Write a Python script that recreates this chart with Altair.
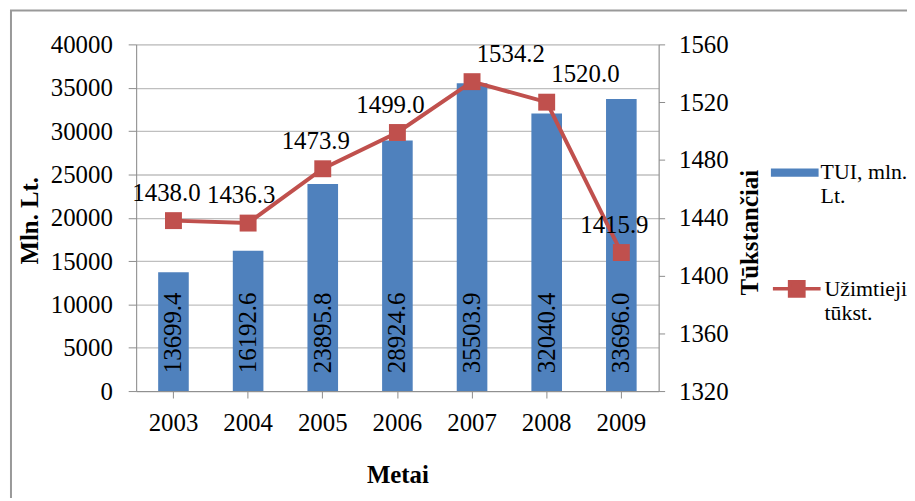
import altair as alt
import pandas as pd

# ---- data ----
years = ["2003", "2004", "2005", "2006", "2007", "2008", "2009"]
tui_mln_lt = [13699.4, 16192.6, 23895.8, 28924.6, 35503.9, 32040.4, 33696.0]
employed_thous = [1438.0, 1436.3, 1473.9, 1499.0, 1534.2, 1520.0, 1415.9]
left_ticks = [0, 5000, 10000, 15000, 20000, 25000, 30000, 35000, 40000]
right_ticks = [1320, 1360, 1400, 1440, 1480, 1520, 1560]
bar_series = "TUI, mln. Lt."
line_series = "Užimtieji tūkst."

df = pd.DataFrame({
    "Metai": years,
    "TUI": tui_mln_lt,
    "Uzimtieji": employed_thous,
    "s_bar": [bar_series] * len(years),
    "s_line": [line_series] * len(years),
})

FONT = "Liberation Serif"
BLUE = "#4F81BD"
RED = "#C0504D"
GRID = "#BFBFBF"
AXC = "#8C8C8C"
FS = 25

base = alt.Chart(df)

x_enc = alt.X(
    "Metai:N", title="Metai",
    scale=alt.Scale(paddingInner=0.59, paddingOuter=0.295),
    axis=alt.Axis(
        labelAngle=0, labelFont=FONT, labelFontSize=FS, labelColor="black",
        labelPadding=13, tickSize=7, tickColor=AXC, domainColor=AXC,
        titleFont=FONT, titleFontSize=FS, titleFontWeight="bold", titleColor="black",
        titleY=84, titleBaseline="middle",
    ),
)

y_left = alt.Y(
    "TUI:Q", title="Mln. Lt.",
    scale=alt.Scale(domain=[0, 40000], nice=False),
    axis=alt.Axis(
        values=left_ticks, format="d", labelFont=FONT, labelFontSize=FS,
        labelColor="black", labelPadding=16, tickSize=8, tickColor=AXC,
        domainColor=AXC, grid=True, gridColor=GRID, gridWidth=1.3,
        titleFont=FONT, titleFontSize=FS, titleFontWeight="bold", titleColor="black",
        titleX=-107, titleY=177, titleAngle=270, titleBaseline="middle", titleAlign="center",
    ),
)

y_right = alt.Y(
    "Uzimtieji:Q", title="Tūkstančiai",
    scale=alt.Scale(domain=[1320, 1560], nice=False, zero=False),
    axis=alt.Axis(
        orient="right", values=right_ticks, format="d", labelFont=FONT,
        labelFontSize=FS, labelColor="black", labelPadding=14, tickSize=6,
        tickColor=AXC, domainColor=AXC, grid=False,
        titleFont=FONT, titleFontSize=FS, titleFontWeight="bold", titleColor="black",
        titleX=92, titleY=189, titleAngle=270, titleBaseline="middle", titleAlign="center",
    ),
)

bars = base.mark_bar().encode(
    x=x_enc,
    y=y_left,
    color=alt.Color(
        "s_bar:N",
        scale=alt.Scale(domain=[bar_series], range=[BLUE]),
        legend=alt.Legend(
            orient="none", legendX=639, legendY=95, title=None, padding=0,
            symbolType="M-1,0.25L1,0.25L1,0.59L-1,0.59Z", symbolSize=2304,
            symbolStrokeWidth=0, symbolOpacity=1,
            labelFont=FONT, labelFontSize=22, labelColor="black",
            labelExpr="['TUI, mln.', 'Lt.']", labelBaseline="top",
            labelOffset=2, labelLimit=400,
        ),
    ),
)

bar_labels = base.mark_text(
    angle=270, align="left", baseline="middle", dx=18,
    font=FONT, fontSize=FS, color="black",
).encode(
    x="Metai:N",
    y=alt.datum(0),
    text=alt.Text("TUI:Q", format=".1f"),
)

line = base.mark_line(color=RED, strokeWidth=4).encode(x="Metai:N", y=y_right)

points = base.mark_point(shape="square", filled=True, size=290, opacity=1).encode(
    x="Metai:N",
    y="Uzimtieji:Q",
    color=alt.Color(
        "s_line:N",
        scale=alt.Scale(domain=[line_series], range=[RED]),
        legend=alt.Legend(
            orient="none", legendX=639, legendY=210, title=None, padding=0,
            symbolType="M-1,0.42L1,0.42M-0.3,0.12L0.3,0.12L0.3,0.72L-0.3,0.72Z",
            symbolSize=2304, symbolStrokeWidth=3.5, symbolStrokeColor=RED,
            symbolFillColor=RED, symbolOpacity=1,
            labelFont=FONT, labelFontSize=22, labelColor="black",
            labelExpr="['Užimtieji', 'tūkst.']", labelBaseline="top",
            labelOffset=2, labelLimit=400,
        ),
    ),
)

point_labels = base.mark_text(
    dy=-28, dx=-7, font=FONT, fontSize=FS, color="black", baseline="middle"
).encode(
    x="Metai:N", y="Uzimtieji:Q", text=alt.Text("Uzimtieji:Q", format=".1f")
).transform_filter(
    "datum.Metai != '2007' && datum.Metai != '2008'"
)

point_labels_shifted = base.mark_text(
    dy=-28, dx=39, font=FONT, fontSize=FS, color="black", baseline="middle"
).encode(
    x="Metai:N", y="Uzimtieji:Q", text=alt.Text("Uzimtieji:Q", format=".1f")
).transform_filter(
    "datum.Metai == '2007' || datum.Metai == '2008'"
)

border = alt.Chart(pd.DataFrame({"k": [0]})).mark_rect(
    fill="transparent", stroke="#999999", strokeWidth=2
).encode(
    x=alt.value(-126), x2=alt.value(800), y=alt.value(-34), y2=alt.value(480)
)

left = alt.layer(bars, bar_labels)
right = alt.layer(line, points, point_labels, point_labels_shifted)

chart = alt.layer(left, right, border).resolve_scale(
    y="independent", color="independent"
).properties(
    width=526, height=349,
    autosize=alt.AutoSizeParams(type="none"),
    padding={"left": 129, "top": 35, "right": 250, "bottom": 106},
).configure_view(stroke=None).configure(background="white")

chart.save("out.html", embed_options={"renderer": "svg", "actions": False})
